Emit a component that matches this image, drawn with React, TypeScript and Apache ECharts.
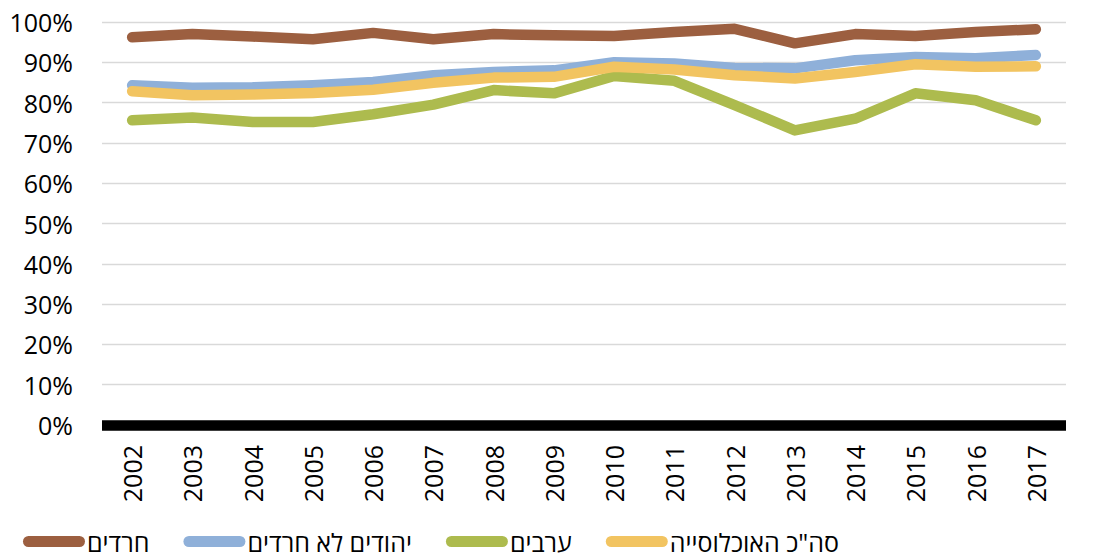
import React, { useEffect, useRef } from "react";
import * as echarts from "echarts";

const years = ["2002","2003","2004","2005","2006","2007","2008","2009","2010","2011","2012","2013","2014","2015","2016","2017"];
const haredim = [96.2, 97.0, 96.4, 95.7, 97.3, 95.7, 97.0, 96.7, 96.5, 97.5, 98.3, 94.7, 97.0, 96.5, 97.5, 98.2];
const nonHarediJews = [84.3, 83.7, 83.8, 84.3, 85.1, 86.8, 87.6, 88.0, 90.0, 89.7, 88.6, 88.5, 90.5, 91.3, 91.0, 91.8];
const arabs = [75.6, 76.3, 75.2, 75.2, 77.1, 79.5, 83.1, 82.3, 86.6, 85.4, 79.4, 73.1, 76.0, 82.3, 80.6, 75.6];
const total = [82.8, 81.8, 82.0, 82.4, 83.2, 84.9, 86.2, 86.4, 88.9, 88.2, 86.8, 86.0, 87.6, 89.5, 88.9, 89.0];
const seriesNames = ["חרדים", "יהודים לא חרדים", "ערבים", 'סה"כ האוכלוסייה'];
const seriesColors = ["#9C5F40", "#8FB0D9", "#ADBB4E", "#F2C461"];

const FONT = "'Open Sans', 'Liberation Sans', 'DejaVu Sans', sans-serif";

export default function App() {
  const ref = useRef<HTMLDivElement>(null);
  useEffect(() => {
    if (!ref.current) return;
    const chart = echarts.init(ref.current, null, { renderer: "svg" });
    const data = [haredim, nonHarediJews, arabs, total];
    chart.setOption({
      animation: false,
      backgroundColor: "#ffffff",
      grid: { left: 102, right: 28, top: 22, bottom: 133, containLabel: false },
      legend: {
        left: 23,
        top: 529,
        padding: 0,
        itemGap: 34,
        itemWidth: 62,
        itemHeight: 11,
        icon: "path://M5.5,0 H56.5 A5.5,5.5 0 0 1 56.5,11 H5.5 A5.5,5.5 0 0 1 5.5,0 Z",
        textStyle: { fontSize: 25, lineHeight: 25, color: "#000", fontFamily: FONT, padding: [0, 0, 0, -3] },
        data: seriesNames,
      },
      xAxis: {
        type: "category",
        data: years,
        boundaryGap: true,
        axisLine: { show: true, lineStyle: { color: "#000", width: 10.5, cap: "butt" } },
        axisTick: { show: false },
        axisLabel: { rotate: 90, fontSize: 25, color: "#000", fontFamily: FONT, margin: 20 },
      },
      yAxis: {
        type: "value",
        min: 0,
        max: 100,
        interval: 10,
        axisLine: { show: false },
        axisTick: { show: false },
        axisLabel: { formatter: "{value}%", fontSize: 25, color: "#000", fontFamily: FONT, margin: 29 },
        splitLine: { lineStyle: { color: "#d9d9d9", width: 1.3 } },
      },
      series: seriesNames.map((n, i) => ({
        name: n,
        type: "line",
        data: data[i],
        symbol: "none",
        showSymbol: false,
        color: seriesColors[i],
        lineStyle: { width: 10.5, color: seriesColors[i], cap: "round", join: "round" },
        z: 2 + i,
      })),
    });
    return () => chart.dispose();
  }, []);
  return <div ref={ref} style={{ width: 1094, height: 558, position: "absolute", left: 0, top: 0 }} />;
}
